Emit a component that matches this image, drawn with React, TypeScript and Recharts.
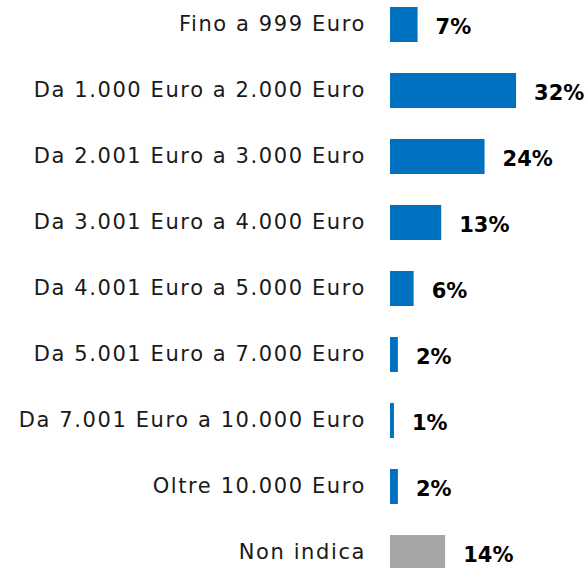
import React from 'react';
import { BarChart, Bar, XAxis, YAxis, Cell, LabelList } from 'recharts';

// Data
const categories = [
  'Fino a 999 Euro',
  'Da 1.000 Euro a 2.000 Euro',
  'Da 2.001 Euro a 3.000 Euro',
  'Da 3.001 Euro a 4.000 Euro',
  'Da 4.001 Euro a 5.000 Euro',
  'Da 5.001 Euro a 7.000 Euro',
  'Da 7.001 Euro a 10.000 Euro',
  'Oltre 10.000 Euro',
  'Non indica',
];
const shares = [7, 32, 24, 13, 6, 2, 1, 2, 14];

const BLUE = '#0070C0';
const GREY = '#A6A6A6';
const FONT = '"DejaVu Sans", sans-serif';

const rows = categories.map((name, i) => ({ name, value: shares[i] }));

export default function App() {
  return (
    <div style={{ position: 'absolute', left: 0, top: 0, width: 588, height: 568, overflow: 'hidden', background: '#fff' }}>
      <div style={{ position: 'absolute', left: 0, top: -9 }}>
        <BarChart
          width={588}
          height={594}
          data={rows}
          layout="vertical"
          margin={{ top: 0, right: 1, left: 0, bottom: 0 }}
          barSize={35}
        >
          <XAxis type="number" domain={[0, 50]} hide />
          <YAxis
            type="category"
            dataKey="name"
            width={390}
            tickLine={false}
            axisLine={false}
            tickSize={0}
            tickMargin={24}
            interval={0}
            tick={{ fill: '#1a1a1a', fontSize: 21, fontFamily: FONT, letterSpacing: 1.6 }}
          />
          <Bar dataKey="value" isAnimationActive={false}>
            {rows.map((r) => (
              <Cell key={r.name} fill={r.name === 'Non indica' ? GREY : BLUE} />
            ))}
            <LabelList
              dataKey="value"
              position="right"
              offset={18}
              formatter={(v: number) => `${v}%`}
              style={{ fill: '#000', fontSize: 21, fontWeight: 'bold', fontFamily: FONT, transform: 'translateY(2px)' }}
            />
          </Bar>
        </BarChart>
      </div>
    </div>
  );
}
